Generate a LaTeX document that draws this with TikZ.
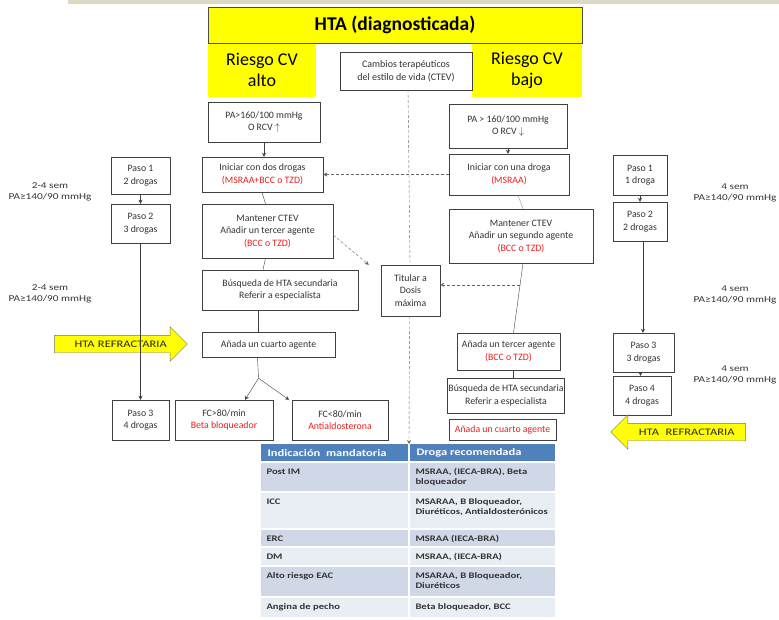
\documentclass[tikz,border=0pt]{standalone}
\usepackage{fontspec}
\setmainfont{Carlito}
\newfontfamily\ancha[FakeStretch=1.25]{Carlito}
\usepackage{xcolor}
\usepackage{tikz}
\usetikzlibrary{shapes.arrows,arrows.meta}
\definecolor{amarillo}{RGB}{255,255,0}
\definecolor{rojo}{RGB}{235,30,30}
\definecolor{franja}{RGB}{221,217,196}
\definecolor{azul}{RGB}{79,129,189}
\definecolor{filaA}{RGB}{208,216,232}
\definecolor{filaB}{RGB}{233,237,244}
\tikzset{
    SZ/.style 2 args={minimum width=#1pt,minimum height=#2pt},
    BX/.style ={rectangle,draw=black!75,fill=white,align=center,inner sep=1pt,text=black!80,font=\fontsize{9.8}{12.5}\selectfont},
    YB/.style ={rectangle,fill=amarillo,align=center,inner sep=0pt,font=\fontsize{18}{21}\selectfont},
    ST/.style ={align=center,text=black!80,font=\ancha\fontsize{9}{11}\selectfont},
    FL/.style ={single arrow,draw=black!55,fill=amarillo,single arrow head extend=8.5pt,inner xsep=3pt,inner ysep=4pt,text height=8pt,text depth=1pt,text=black!85,font=\ancha\fontsize{10}{11}\selectfont},
    TH/.style ={anchor=west,text=white,font=\ancha\fontsize{10}{11}\selectfont\bfseries},
    TC/.style ={anchor=north west,align=left,text=black!80,font=\ancha\fontsize{8.5}{10}\selectfont\bfseries}
}
\newcommand{\rj}[1]{\textcolor{rojo}{#1}}
\begin{document}
\begin{tikzpicture}[x=1pt,y=-1pt,
        >={Stealth[length=4pt,width=4pt]},
        ln/.style={draw=black!75},
        ar/.style={->,draw=black!75},
        ds/.style={->,densely dashed,draw=black!60}]
        \useasboundingbox (0,0) rectangle (779,619);
        \fill[franja] (68,0) rectangle (779,4);
        % cabecera
        \node[YB,SZ={108}{54}](A0) at (262,70) {Riesgo CV\\alto};
        \node[YB,SZ={110}{54}](B0) at (527,70) {Riesgo CV\\bajo};
        \node[YB,draw=black!70,SZ={374}{36},font=\fontsize{19.5}{22}\selectfont\bfseries](0) at (395,25) {HTA (diagnosticada)};
        \node[BX,SZ={132}{38},font=\fontsize{10}{12.5}\selectfont](C0) at (406,71) {Cambios terapéuticos\\del estilo de vida (CTEV)};
        % riesgo alto
        \node[BX,SZ={112}{40}](A1) at (264,122) {PA>160/100 mmHg\\O RCV $\uparrow$};
        \node[BX,SZ={121}{35}](A2) at (262.5,174.5) {Iniciar con dos drogas\\\rj{(MSRAA+BCC o TZD)}};
        \node[BX,SZ={131}{54}](A3) at (267.5,231) {Mantener CTEV\\Añadir un tercer agente\\\rj{(BCC o TZD)}};
        \node[BX,SZ={156}{40}](A4) at (280,290) {Búsqueda de HTA secundaria\\Referir a especialista};
        \node[BX,SZ={133}{25}](A5) at (268.5,344.5) {Añada un cuarto agente};
        \node[BX,SZ={98}{40}](A6) at (224,420) {FC>80/min\\\rj{Beta bloqueador}};
        \node[BX,SZ={96}{40}](A7) at (340,420) {FC<80/min\\\rj{Antialdosterona}};
        % riesgo bajo
        \node[BX,SZ={118}{44}](B1) at (508,126) {PA > 160/100 mmHg\\O RCV $\downarrow$};
        \node[BX,SZ={120}{41}](B2) at (509,174.5) {Iniciar con una droga\\\rj{(MSRAA)}};
        \node[BX,SZ={144}{54}](B3) at (521,236) {Mantener CTEV\\Añadir un segundo agente\\\rj{(BCC o TZD)}};
        \node[BX,SZ={103}{37}](B4) at (508.5,351.5) {Añada un tercer agente\\\rj{(BCC o TZD)}};
        \node[BX,SZ={114}{35}](B5) at (506,395.5) {Búsqueda de HTA secundaria\\Referir a especialista};
        \node[BX,SZ={107}{21}](B6) at (502.5,429.5) {\rj{Añada un cuarto agente}};
        \node[BX,SZ={59}{51}](T) at (410.5,290.5) {Titular a\\Dosis\\máxima};
        % pasos izquierda
        \node[BX,SZ={59}{37}](P1) at (140.5,175.5) {Paso 1\\2 drogas};
        \node[BX,SZ={59}{39}](P2) at (140.5,223.5) {Paso 2\\3 drogas};
        \node[BX,SZ={57}{40}](P3) at (140.5,420) {Paso 3\\4 drogas};
        \node[ST](S1) at (50,192) {2-4 sem\\PA≥140/90 mmHg};
        \node[ST](S2) at (50,294) {2-4 sem\\PA≥140/90 mmHg};
        % pasos derecha
        \node[BX,SZ={54}{40}](Q1) at (640,175) {Paso 1\\1 droga};
        \node[BX,SZ={54}{39}](Q2) at (640,221.5) {Paso 2\\2 drogas};
        \node[BX,SZ={61}{39}](Q3) at (643.5,352.5) {Paso 3\\3 drogas};
        \node[BX,SZ={58}{39}](Q4) at (642,395.5) {Paso 4\\4 drogas};
        \node[ST](R1) at (735,193) {4 sem\\PA≥140/90 mmHg};
        \node[ST](R2) at (735,295) {4 sem\\PA≥140/90 mmHg};
        \node[ST](R3) at (735,375) {4 sem\\PA≥140/90 mmHg};
        % flechas refractaria
        \node[FL,minimum height=133pt,text width=104pt](F1) at (116.5,344) {\hspace{10pt}HTA REFRACTARIA};
        \node[FL,shape border rotate=180,minimum height=135pt,text width=104pt,align=right](F2) at (682.5,432) {HTA\ \ REFRACTARIA\hspace{6pt}};
        % tabla
        \fill[azul] (261,444) rectangle (555,462);
        \fill[filaA] (261,462) rectangle (555,492);
        \fill[filaB] (261,492) rectangle (555,529);
        \fill[filaA] (261,529) rectangle (555,547);
        \fill[filaB] (261,547) rectangle (555,566);
        \fill[filaA] (261,566) rectangle (555,597);
        \fill[filaB] (261,597) rectangle (555,617);
        \draw[white,line width=1.2pt] (409,444) -- (409,617)
            (261,462) -- (555,462) (261,492) -- (555,492) (261,529) -- (555,529)
            (261,547) -- (555,547) (261,566) -- (555,566) (261,597) -- (555,597);
        \coordinate (tab) at (409,444);
        \node[TH](H1) at (264,453) {Indicación\ \ mandatoria};
        \node[TH](H2) at (413,453) {Droga recomendada};
        \node[TC](c1) at (263,465) {Post IM};
        \node[TC](d1) at (412,465) {MSRAA, (IECA-BRA), Beta\\bloqueador};
        \node[TC](c2) at (263,495) {ICC};
        \node[TC](d2) at (412,495) {MSARAA, B Bloqueador,\\Diuréticos, Antialdosterónicos};
        \node[TC](c3) at (263,532) {ERC};
        \node[TC](d3) at (412,532) {MSRAA (IECA-BRA)};
        \node[TC](c4) at (263,550) {DM};
        \node[TC](d4) at (412,550) {MSRAA, (IECA-BRA)};
        \node[TC](c5) at (263,569) {Alto riesgo EAC};
        \node[TC](d5) at (412,569) {MSARAA, B Bloqueador,\\Diuréticos};
        \node[TC](c6) at (263,600) {Angina de pecho};
        \node[TC](d6) at (412,600) {Beta bloqueador, BCC};
        % conexiones riesgo alto
        \draw[ar] (A1) -- (A1.south |- A2.north);
        \draw[ln] ([xshift=-0.5pt]A2.south) -- ([xshift=-2pt]A3.north);
        \draw[ln] ([xshift=-2pt]A3.south) -- ([xshift=-17pt]A4.north);
        \draw[ln] ([xshift=-10pt]A5.north) -- ([xshift=-10pt]A5.north |- A4.south);
        \draw[ln] ([xshift=-11pt]A5.south) -- ++(1,21) coordinate (j);
        \draw[ar] (j) -- ([xshift=21pt]A6.north);
        \draw[ar] (j) -- ([xshift=-51pt]A7.north);
        % conexiones riesgo bajo
        \draw[ar] (B1) -- (B1.south |- B2.north);
        \draw[ln,draw=black!40] ([xshift=9pt]B2.south) -- ([xshift=2pt]B3.north);
        \draw[ln] ([xshift=2pt]B3.south) -- ([xshift=5pt]B4.north) coordinate[pos=0.31] (k);
        \draw[ln] ([xshift=5pt]B4.south) -- ([xshift=5pt]B4.south |- B5.north);
        % pasos
        \draw[ar] (P1) -- (P2);
        \draw[ar] (P2) -- (P3);
        \draw[ar] (Q1) -- (Q2);
        \draw[ar] ([xshift=3pt]Q2.south) -- ([xshift=3pt]Q2.south |- Q3.north);
        \draw[ar] ([xshift=-3pt]Q3.south) -- ([xshift=-3pt]Q3.south |- Q4.north);
        % CTEV y titulacion
        \draw[densely dashed,draw=black!60] ([xshift=2pt]C0.south) -- ([xshift=-0.5pt]T.north);
        \draw[ds] (B2) -- (A2);
        \draw[ds] ([yshift=-4pt]A3.east) -- ([xshift=-12pt]T.north west);
        \draw[ds] (k) -- (T.east |- k);
        \draw[ds] ([xshift=-1pt]T.south) -- (tab);
\end{tikzpicture}
\end{document}
